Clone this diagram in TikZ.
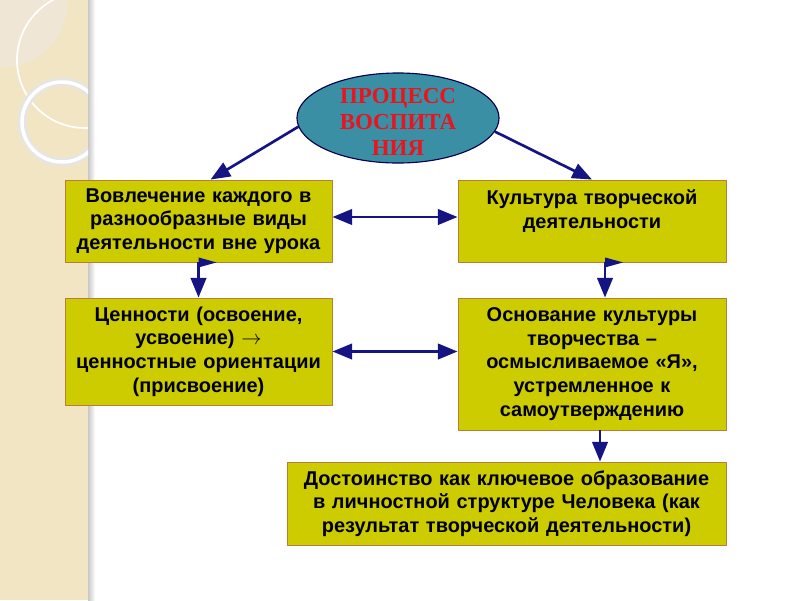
\documentclass[tikz,border=0pt]{standalone}
\usepackage{fontspec}
\setmainfont{Liberation Sans}
\newfontfamily\serifbold{Liberation Serif}
\usetikzlibrary{shapes.geometric,arrows.meta}
\definecolor{olivebox}{RGB}{204,204,0}
\definecolor{boxrim}{RGB}{185,125,55}
\definecolor{tealfill}{RGB}{58,143,165}
\definecolor{arrblue}{RGB}{20,20,130}
\definecolor{redtxt}{RGB}{232,20,30}
\definecolor{beige}{RGB}{242,229,196}
\begin{document}
\begin{tikzpicture}[x=0.025cm,y=-0.025cm,line join=round,
  box/.style={draw=boxrim,fill=olivebox,line width=0.6pt,align=center,inner sep=2pt,
    font=\bfseries\fontsize{14.2}{16.8}\selectfont},
  arr/.style={draw=arrblue,line width=1.9pt,-{Triangle[length=14pt,width=11pt]}},
  dbl/.style={arr,{Triangle[length=14pt,width=11pt]}-{Triangle[length=14pt,width=11pt]}},
  flag/.style={fill=arrblue}]
\useasboundingbox (0,0) rectangle (800,600);
% left strip
\fill[beige] (0,0) rectangle (88,600);
\shade[left color=black!22,right color=white] (88,0) rectangle (95,600);
\begin{scope}
  \clip (0,0) rectangle (88,600);
  \fill[blue!8!white,opacity=.3] (0,0) circle (68);
  \draw[white,line width=1.2pt] (85,60) circle (68);
  \draw[black!10,line width=6pt] (62,122) circle (40);
  \draw[white,line width=2.5pt] (62,122) circle (40);
\end{scope}
% centre
\node[ellipse,draw=black!70!blue,fill=tealfill,line width=0.8pt,minimum width=5.05cm,minimum height=2.25cm,
  label={[text=redtxt,align=center,yshift=-0.1cm,font=\serifbold\bfseries\fontsize{16.3}{18.3}\selectfont]center:ПРОЦЕСС\\ВОСПИТА\\НИЯ}]
  (e) at (398,118) {};
% boxes
\node[box,minimum width=6.675cm,minimum height=2.05cm,text width=6.5cm] (b1) at (198.5,221)
  {Вовлечение каждого в\\разнообразные виды\\деятельности вне урока};
\node[box,minimum width=6.7cm,minimum height=2.05cm,text width=6.5cm] (b2) at (592,221)
  {Культура творческой\\деятельности\\\mbox{}};
\node[box,minimum width=6.675cm,minimum height=2.675cm,text width=6.5cm] (b3) at (198.5,351.5)
  {Ценности (освоение,\\усвоение) $\rightarrow$\\ценностные ориентации\\(присвоение)};
\node[box,minimum width=6.7cm,minimum height=3.3cm,text width=6.5cm] (b4) at (592,364)
  {Основание культуры\\творчества –\\осмысливаемое «Я»,\\устремленное к\\самоутверждению};
\node[box,minimum width=10.975cm,minimum height=2.075cm,text width=10.8cm] (b5) at (506.5,503.5)
  {Достоинство как ключевое образование\\в личностной структуре Человека (как\\результат творческой деятельности)};
% connectors
\draw[arr] (e.185) -- ([xshift=0.3cm]b1.north);
\draw[arr] (e.352) -- (b2.north);
\draw[dbl] ([yshift=0.1cm]b1.east) -- ([yshift=0.1cm]b2.west);
\draw[dbl] (b3.east) -- (b3.east -| b4.west);
\draw[arr] (b1.south) -- (b3.north);
\draw[arr] ([xshift=0.325cm]b2.south) -- ([xshift=0.325cm]b4.north);
\draw[arr] ([xshift=0.2cm]b4.south) -- ([xshift=0.2cm]b4.south |- b5.north);
\foreach \n/\s in {b1/0,b2/0.325}{
  \fill[flag] ([xshift=\s cm]\n.south) ++(0,-5) -- ++(18,5) -- ++(-18,5) -- cycle;}
\end{tikzpicture}
\end{document}
